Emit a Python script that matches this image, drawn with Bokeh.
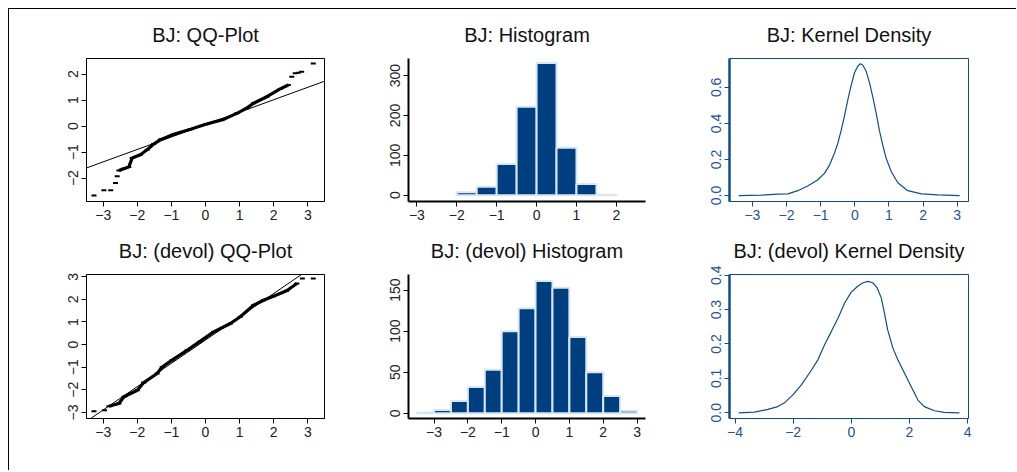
from bokeh.plotting import figure
from bokeh.layouts import row, column
from bokeh.models import FixedTicker, PrintfTickFormatter, Range1d, Slope, Spacer
from bokeh.embed import file_html
from bokeh.resources import INLINE

FONT = "Liberation Sans"

# ---------------- data ----------------
# QQ-plot 1 (theoretical quantile, sample quantile)
qq1_tail_x = [-3.27, -2.98, -2.78, -2.64, -2.59, 2.53, 2.63, 2.72, 2.82, 3.16]
qq1_tail_y = [-2.67, -2.47, -2.47, -2.19, -1.93, 1.90, 2.03, 2.05, 2.09, 2.41]
qq1_body_x = [-2.54, -2.40, -2.25, -2.15, -1.91, -1.71, -1.52, -1.32, -0.93, -0.44,
              0.01, 0.53, 0.92, 1.21, 1.41, 1.80, 2.19, 2.43]
qq1_body_y = [-1.71, -1.64, -1.57, -1.23, -1.10, -0.91, -0.69, -0.52, -0.31, -0.12,
              0.07, 0.26, 0.49, 0.69, 0.88, 1.13, 1.43, 1.58]
qq1_line = (0.478, 0.058)  # slope, intercept

# QQ-plot 2 (devol)
qq2_tail_x = [-3.27, -2.96, 2.84, 3.16]
qq2_tail_y = [-2.95, -2.90, 2.92, 2.92]
qq2_body_x = [-2.83, -2.54, -2.39, -2.00, -1.81, -1.42, -1.27, -0.98, -0.54, -0.15,
              0.24, 0.73, 1.02, 1.41, 1.70, 1.99, 2.38, 2.68]
qq2_body_y = [-2.73, -2.61, -2.31, -2.02, -1.68, -1.28, -0.99, -0.69, -0.25, 0.15,
              0.56, 0.93, 1.23, 1.74, 1.96, 2.14, 2.38, 2.70]
qq2_line = (1.03, 0.20)

# Histogram 1
hist1_left = [-2.0, -1.5, -1.0, -0.5, 0.0, 0.5, 1.0, 1.5]
hist1_counts = [7, 21, 78, 222, 332, 119, 28, 1]
# Histogram 2 (devol)
hist2_left = [-3.5, -3.0, -2.5, -2.0, -1.5, -1.0, -0.5, 0.0, 0.5, 1.0, 1.5, 2.0, 2.5]
hist2_counts = [1, 4, 15, 32, 53, 100, 128, 161, 153, 93, 50, 21, 3]
bin_width = 0.5

# Kernel density 1
dens1_x = [-3.40, -2.75, -2.26, -1.96, -1.67, -1.38, -1.09, -0.89, -0.74, -0.60, -0.50,
           -0.40, -0.30, -0.21, -0.11, -0.01, 0.09, 0.16, 0.23, 0.33, 0.43, 0.53, 0.63,
           0.72, 0.82, 0.92, 1.07, 1.26, 1.55, 1.95, 2.43, 3.07]
dens1_y = [0.000, 0.002, 0.008, 0.009, 0.027, 0.053, 0.086, 0.123, 0.169, 0.233, 0.288,
           0.361, 0.443, 0.526, 0.608, 0.681, 0.718, 0.731, 0.724, 0.691, 0.626, 0.544, 0.453,
           0.361, 0.279, 0.205, 0.132, 0.071, 0.027, 0.009, 0.004, 0.000]
# Kernel density 2 (devol)
dens2_x = [-3.87, -3.33, -2.87, -2.53, -2.30, -2.01, -1.72, -1.38, -1.15, -0.92, -0.69,
           -0.46, -0.23, -0.01, 0.22, 0.40, 0.57, 0.74, 0.89, 1.03, 1.14, 1.25, 1.43,
           1.60, 1.83, 2.06, 2.29, 2.51, 2.86, 3.20, 3.72]
dens2_y = [0.000, 0.002, 0.010, 0.018, 0.029, 0.052, 0.081, 0.123, 0.154, 0.198, 0.236,
           0.275, 0.319, 0.350, 0.368, 0.378, 0.382, 0.378, 0.363, 0.334, 0.290, 0.241, 0.188,
           0.154, 0.115, 0.076, 0.037, 0.018, 0.006, 0.001, 0.000]

# ticks
qq_xticks = [-3, -2, -1, 0, 1, 2, 3]
qq1_yticks = [-2, -1, 0, 1, 2]
qq2_yticks = [-3, -2, -1, 0, 1, 2, 3]
hist1_xticks = [-3, -2, -1, 0, 1, 2]
hist1_yticks = [0, 100, 200, 300]
hist2_xticks = [-3, -2, -1, 0, 1, 2, 3]
hist2_yticks = [0, 50, 100, 150]
dens1_xticks = [-3, -2, -1, 0, 1, 2, 3]
dens1_yticks = [0.0, 0.2, 0.4, 0.6]
dens2_xticks = [-4, -2, 0, 2, 4]
dens2_yticks = [0.0, 0.1, 0.2, 0.3, 0.4]

NAVY = "#003f7f"
BLUE = "#104e8b"
TICK_FS = "14px"


def make_fig(title, xr, yr, borders, height):
    l, r, t, b = borders
    p = figure(width=333, height=height, title=title,
               x_range=Range1d(*xr), y_range=Range1d(*yr),
               output_backend="svg", toolbar_location=None,
               min_border_left=l, min_border_right=r,
               min_border_top=t, min_border_bottom=b)
    p.grid.visible = False
    p.background_fill_color = "white"
    p.border_fill_color = "white"
    p.title.text_font = FONT
    p.title.text_font_size = "20px"
    p.title.text_font_style = "normal"
    p.title.text_color = "#111111"
    p.title.align = "center"
    p.title.vertical_align = "top"
    p.title.standoff = 21
    return p


def style_axis(ax, ticks, color, label_color, lw, fmt=None, vertical=False):
    ax.ticker = FixedTicker(ticks=ticks)
    ax.minor_tick_line_color = None
    ax.major_tick_out = 5
    ax.major_tick_in = 0
    ax.major_tick_line_color = color
    ax.major_tick_line_width = 1
    ax.axis_line_color = color
    ax.axis_line_width = lw
    ax.major_label_text_font = FONT
    ax.major_label_text_font_size = TICK_FS
    ax.major_label_text_color = label_color
    ax.major_label_standoff = 3
    if fmt:
        ax.formatter = PrintfTickFormatter(format=fmt)
    if vertical:
        ax.major_label_orientation = "vertical"


def qq_plot(title, tx, ty, bx, by, line, yr, yticks, borders, height):
    p = make_fig(title, (-3.49, 3.49), yr, borders, height)
    p.outline_line_color = "black"
    p.outline_line_width = 1
    style_axis(p.xaxis[0], qq_xticks, "black", "#222222", 1)
    style_axis(p.yaxis[0], yticks, "black", "#222222", 1, vertical=True)
    p.add_layout(Slope(gradient=line[0], y_intercept=line[1], line_color="black", line_width=1))
    p.line(bx, by, line_color="black", line_width=3.2)
    p.scatter(bx, by, marker="dash", size=5, line_color="black", line_width=2)
    p.scatter(tx, ty, marker="dash", size=5, line_color="black", line_width=2)
    return p


def hist_plot(title, left, counts, xr, yr, xticks, yticks, borders, height):
    p = make_fig(title, xr, yr, borders, height)
    p.outline_line_color = None
    style_axis(p.xaxis[0], xticks, "black", "#222222", 2)
    style_axis(p.yaxis[0], yticks, "black", "#222222", 2, vertical=True)
    right = [v + bin_width for v in left]
    p.quad(left=left, right=right, bottom=0, top=counts,
           fill_color=NAVY, line_color="#dbe6f3", line_width=2)
    return p


def dens_plot(title, x, y, xr, yr, xticks, yticks, borders, height):
    p = make_fig(title, xr, yr, borders, height)
    p.outline_line_color = BLUE
    p.outline_line_width = 1
    style_axis(p.xaxis[0], xticks, BLUE, "#1f5497", 1)
    style_axis(p.yaxis[0], yticks, BLUE, "#1f5497", 2.5, fmt="%.1f", vertical=True)
    p.line(x, y, line_color=BLUE, line_width=1.2)
    return p


H1, H2 = 217, 237
q1 = qq_plot("BJ: QQ-Plot", qq1_tail_x, qq1_tail_y, qq1_body_x, qq1_body_y, qq1_line,
             (-2.9, 2.6), qq1_yticks, (77, 18, 48, 25), H1)
q2 = qq_plot("BJ: (devol) QQ-Plot", qq2_tail_x, qq2_tail_y, qq2_body_x, qq2_body_y, qq2_line,
             (-3.27, 3.1), qq2_yticks, (77, 18, 48, 45), H2)
h1 = hist_plot("BJ: Histogram", hist1_left, hist1_counts, (-3.21, 2.73), (-16, 343),
               hist1_xticks, hist1_yticks, (66, 30, 49, 25), H1)
h2 = hist_plot("BJ: (devol) Histogram", hist2_left, hist2_counts, (-3.755, 3.25), (-6.3, 169),
               hist2_xticks, hist2_yticks, (66, 30, 48, 45), H2)
d1 = dens_plot("BJ: Kernel Density", dens1_x, dens1_y, (-3.67, 3.33), (-0.033, 0.76),
               dens1_xticks, dens1_yticks, (54, 40, 48, 25), H1)
d2 = dens_plot("BJ: (devol) Kernel Density", dens2_x, dens2_y, (-4.19, 4.03), (-0.0166, 0.402),
               dens2_xticks, dens2_yticks, (54, 40, 48, 45), H2)

layout = column(row(q1, h1, d1, Spacer(width=8, height=H1)),
                row(q2, h2, d2),
                Spacer(width=8, height=7),
                margin=(8, 0, 0, 8),
                styles={"border-top": "1px solid black", "border-left": "1px solid black"})

open("out.html", "w").write(file_html(layout, INLINE))
